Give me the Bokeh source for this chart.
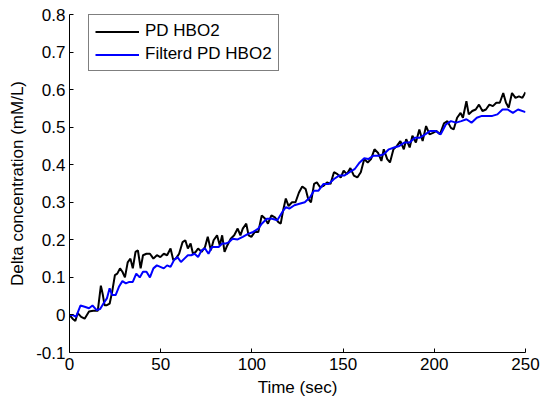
from bokeh.plotting import figure
from bokeh.models import Range1d, FixedTicker, Legend, LegendItem
from bokeh.embed import file_html
from bokeh.resources import INLINE

# ---- data ----
raw_time = [0, 1.7, 3.2, 4.5, 6.4, 8.3, 10.7, 13, 15.5, 17.2, 18.3, 19.2, 20.5, 22, 23.4, 24.9,
            26.2, 27.7, 29, 30.4, 31.9, 33.4, 34.7, 36.2, 37.5, 39, 40.3, 42.2, 44.1, 46, 47.9,
            49.8, 51.7, 53.5, 55.4, 56.9, 58.3, 60.1, 62, 63.5, 64.9, 66.4, 67.7, 69.2, 70.5,
            72.4, 74.3, 75.8, 77.5, 79, 80.9, 82.4, 83.7, 85, 86.5, 88.4, 90.3, 92.2, 93.7, 95,
            96.9, 98.2, 99.7, 101.6, 103.5, 105.4, 107.3, 108.8, 110.7, 112.6, 114.5, 115.8,
            117.1, 118.6, 120.1, 122, 123.9, 125.8, 127.6, 129.5, 130.8, 132.4, 134.1, 135.6,
            137.4, 139.3, 141.2, 143.1, 145, 146.9, 148.7, 150.3, 152.1, 154, 155.9, 157.8,
            159.7, 161.6, 163.5, 165.3, 167.2, 169.1, 171, 172.3, 174.2, 175.7, 177.6, 179.5,
            181.4, 183.3, 184.6, 186.5, 188, 189.9, 191.8, 193.6, 195.5, 197.4, 199.3, 201.2,
            203.1, 205.3, 207.2, 209.1, 210.6, 212.5, 214.4, 215.7, 217.6, 218.9, 220.8, 222.7,
            224.5, 226.4, 228.3, 230.2, 232.1, 234, 235.9, 237.8, 239.3, 240.8, 242.6, 244.5,
            246.4, 248.3, 250]
raw_hbo2 = [0.0, -0.01, -0.016, 0.005, -0.005, -0.01, 0.009, 0.011, 0.011, 0.078, 0.053, 0.026,
            0.026, 0.03, 0.062, 0.106, 0.11, 0.124, 0.115, 0.10, 0.14, 0.15, 0.124, 0.168, 0.172,
            0.124, 0.159, 0.163, 0.163, 0.15, 0.159, 0.154, 0.163, 0.159, 0.177, 0.146, 0.15,
            0.163, 0.194, 0.199, 0.177, 0.19, 0.163, 0.168, 0.177, 0.168, 0.181, 0.208, 0.172,
            0.199, 0.212, 0.185, 0.212, 0.168, 0.185, 0.203, 0.212, 0.23, 0.212, 0.23, 0.243,
            0.212, 0.208, 0.221, 0.221, 0.265, 0.256, 0.243, 0.265, 0.26, 0.247, 0.243, 0.278,
            0.31, 0.29, 0.30, 0.30, 0.326, 0.342, 0.335, 0.31, 0.30, 0.349, 0.353, 0.34, 0.344,
            0.353, 0.349, 0.38, 0.375, 0.366, 0.384, 0.375, 0.391, 0.371, 0.366, 0.38, 0.415,
            0.406, 0.415, 0.441, 0.432, 0.41, 0.441, 0.415, 0.406, 0.441, 0.45, 0.463, 0.441,
            0.468, 0.446, 0.477, 0.459, 0.494, 0.463, 0.503, 0.481, 0.485, 0.49, 0.481, 0.51,
            0.516, 0.498, 0.494, 0.525, 0.538, 0.525, 0.569, 0.534, 0.543, 0.547, 0.56, 0.543,
            0.547, 0.56, 0.556, 0.565, 0.565, 0.591, 0.565, 0.552, 0.591, 0.578, 0.582, 0.578,
            0.593]

filt_time = [0, 1.7, 3.6, 6, 8.3, 10.7, 12.6, 14.9, 16.8, 18.7, 20.5, 22, 23.4, 25.3, 27.1, 29,
             30.9, 32.8, 34.7, 36.6, 38.5, 40.3, 42.2, 44.1, 46, 47.9, 49.8, 51.7, 53.5, 55.4,
             57.3, 59.2, 61.1, 63, 64.9, 66.7, 68.6, 70.5, 72.4, 74.3, 76.2, 78.1, 79.9, 81.8,
             83.7, 85.6, 87.5, 89.4, 92.2, 95, 97.9, 100.7, 103.5, 105.4, 108.2, 111.1, 113.9,
             116.7, 118.6, 120.5, 123.3, 126.1, 129, 131.8, 134, 136.5, 139.3, 142.2, 145, 147.8,
             150.6, 153.5, 156.3, 159.1, 161.6, 163.8, 166.7, 169.5, 172.3, 175.1, 178, 180.8,
             183.6, 186.5, 189.3, 192.1, 195, 197.8, 200.6, 203.5, 206.3, 209.1, 211.9, 214.8,
             217.6, 220.4, 223.3, 226.1, 228.9, 231.8, 234.6, 237.4, 240.2, 243.1, 245.9, 250]
filt_hbo2 = [0.0, 0.0, -0.005, 0.025, 0.022, 0.018, 0.025, 0.013, 0.016, 0.031, 0.044, 0.071,
             0.053, 0.053, 0.075, 0.09, 0.084, 0.088, 0.088, 0.11, 0.10, 0.115, 0.115, 0.10,
             0.124, 0.132, 0.128, 0.124, 0.132, 0.128, 0.146, 0.154, 0.141, 0.15, 0.159, 0.159,
             0.163, 0.154, 0.172, 0.177, 0.163, 0.181, 0.181, 0.181, 0.19, 0.19, 0.194, 0.203,
             0.201, 0.208, 0.216, 0.221, 0.23, 0.243, 0.256, 0.256, 0.252, 0.274, 0.287, 0.283,
             0.292, 0.296, 0.30, 0.313, 0.331, 0.331, 0.349, 0.349, 0.362, 0.371, 0.371, 0.38,
             0.388, 0.406, 0.417, 0.415, 0.424, 0.424, 0.428, 0.441, 0.446, 0.45, 0.459, 0.459,
             0.472, 0.472, 0.481, 0.49, 0.49, 0.481, 0.507, 0.516, 0.512, 0.516, 0.521, 0.512,
             0.525, 0.53, 0.53, 0.53, 0.534, 0.547, 0.547, 0.538, 0.547, 0.54]

x_ticks = [0, 50, 100, 150, 200, 250]
y_ticks = [-0.1, 0, 0.1, 0.2, 0.3, 0.4, 0.5, 0.6, 0.7, 0.8]
y_tick_labels = ["-0.1", "0", "0.1", "0.2", "0.3", "0.4", "0.5", "0.6", "0.7", "0.8"]
series_names = ["PD HBO2", "Filterd PD HBO2"]

FONT = "Liberation Sans"
FS = "17px"

p = figure(frame_width=456, frame_height=338, output_backend="svg", toolbar_location=None,
           x_range=Range1d(0, 250), y_range=Range1d(-0.1, 0.8),
           min_border_left=69, min_border_top=14, min_border_bottom=40, min_border_right=17)
p.outline_line_color = None
p.grid.visible = False
p.background_fill_color = "white"
p.border_fill_color = "white"

r1 = p.line(raw_time, raw_hbo2, line_color="black", line_width=2)
r2 = p.line(filt_time, filt_hbo2, line_color="#0000ff", line_width=2)

for ax in (p.xaxis[0], p.yaxis[0]):
    ax.axis_line_color = "black"
    ax.major_tick_line_color = "black"
    ax.major_tick_in = 4
    ax.major_tick_out = 0
    ax.minor_tick_line_color = None
    ax.major_label_text_font = FONT
    ax.major_label_text_font_size = FS
    ax.major_label_text_color = "black"
    ax.axis_label_text_font = FONT
    ax.axis_label_text_font_size = FS
    ax.axis_label_text_font_style = "normal"
    ax.axis_label_text_color = "black"

p.xaxis[0].ticker = FixedTicker(ticks=x_ticks)
p.xaxis[0].major_label_standoff = 5
p.xaxis[0].axis_label = "Time (sec)"
p.xaxis[0].axis_label_standoff = 5

p.yaxis[0].ticker = FixedTicker(ticks=y_ticks)
p.yaxis[0].major_label_overrides = {t: l for t, l in zip(y_ticks, y_tick_labels)}
p.yaxis[0].major_label_standoff = 4
p.yaxis[0].axis_label = "Delta concentration (mM/L)"
p.yaxis[0].axis_label_standoff = 6

legend = Legend(items=[LegendItem(label=series_names[0], renderers=[r1]),
                       LegendItem(label=series_names[1], renderers=[r2])],
                location=(19, 281))
legend.border_line_color = "black"
legend.border_line_width = 1
legend.background_fill_alpha = 1
legend.margin = 0
legend.padding = 6
legend.spacing = 3
legend.glyph_width = 44
legend.glyph_height = 17
legend.label_height = 17
legend.label_standoff = 6
legend.label_text_font = FONT
legend.label_text_font_size = FS
legend.label_text_color = "black"
p.add_layout(legend, "center")

open("out.html", "w").write(file_html(p, INLINE))
